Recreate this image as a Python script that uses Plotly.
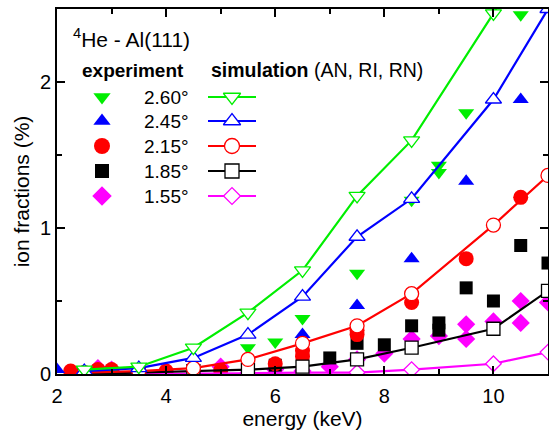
import plotly.graph_objects as go

FONT = "Liberation Sans, Arial, sans-serif"

angles = ["2.60°", "2.45°", "2.15°", "1.85°", "1.55°"]
colors = ["#00ee00", "#0000ff", "#ff0000", "#000000", "#ff00ff"]
filled_symbols = ["triangle-down", "triangle-up", "circle", "square", "diamond"]
open_symbols = ["triangle-down", "triangle-up", "circle", "square", "diamond"]
filled_sizes = [14, 14, 15, 13, 14]
open_sizes = [14, 14, 14, 13, 12]

# experiment (filled symbols)
exp_e_260 = [2.5, 3.0, 5.5, 6.0, 6.5, 7.5, 8.5, 9.0, 9.0, 9.5, 10.5]
exp_f_260 = [0.02, 0.02, 0.18, 0.22, 0.38, 0.69, 1.19, 1.38, 1.43, 1.79, 2.46]
exp_e_245 = [2.0, 2.5, 6.5, 7.5, 8.5, 9.5, 10.5]
exp_f_245 = [0.03, 0.02, 0.27, 0.47, 0.79, 1.32, 1.88]
exp_e_215 = [2.25, 2.75, 3.0, 4.0, 5.0, 6.0, 6.5, 6.5, 7.5, 7.5, 8.5, 9.5, 10.5]
exp_f_215 = [0.02, 0.03, 0.03, 0.02, 0.025, 0.07, 0.12, 0.16, 0.27, 0.30, 0.49, 0.79, 1.21]
exp_e_185 = [2.5, 3.0, 6.0, 6.5, 7.0, 7.5, 8.0, 8.5, 9.0, 9.0, 9.5, 10.0, 10.5, 11.0]
exp_f_185 = [0.01, 0.01, 0.06, 0.07, 0.11, 0.21, 0.20, 0.33, 0.30, 0.35, 0.59, 0.50, 0.88, 0.76]
exp_e_155 = [2.75, 3.0, 5.0, 6.0, 6.5, 7.0, 7.5, 8.0, 8.5, 9.0, 9.5, 9.5, 10.0, 10.5, 10.5, 11.0]
exp_f_155 = [0.04, 0.03, 0.05, 0.03, 0.02, 0.05, 0.10, 0.14, 0.24, 0.26, 0.34, 0.24, 0.36, 0.50, 0.35, 0.49]

# simulation (AN, RI, RN) (open symbols + lines)
sim_e = [2.5, 3.5, 4.5, 5.5, 6.5, 7.5, 8.5, 10.0, 11.0]
sim_f_260 = [0.03, 0.05, 0.18, 0.42, 0.71, 1.22, 1.60, 2.47, 3.10]
sim_f_245 = [0.02, 0.04, 0.11, 0.27, 0.53, 0.94, 1.20, 1.88, 2.50]
sim_f_215 = [0.01, 0.02, 0.04, 0.10, 0.21, 0.33, 0.55, 1.02, 1.36]
sim_f_185 = [0.0, 0.01, 0.02, 0.03, 0.05, 0.10, 0.18, 0.31, 0.57]
sim_f_155 = [0.0, 0.0, 0.0, 0.005, 0.01, 0.01, 0.03, 0.07, 0.15]

exp_sets = [(exp_e_260, exp_f_260), (exp_e_245, exp_f_245), (exp_e_215, exp_f_215),
            (exp_e_185, exp_f_185), (exp_e_155, exp_f_155)]
sim_sets = [sim_f_260, sim_f_245, sim_f_215, sim_f_185, sim_f_155]

fig = go.Figure()

# experiments: draw from bottom (magenta) to top (green)
for i in reversed(range(5)):
    e, f = exp_sets[i]
    fig.add_trace(go.Scatter(x=e, y=f, mode="markers", showlegend=False,
                             marker=dict(symbol=filled_symbols[i], size=filled_sizes[i],
                                         color=colors[i], line=dict(width=0))))

# simulations (open symbols: white-filled so the line is hidden inside them)
for i in reversed(range(5)):
    fig.add_trace(go.Scatter(x=sim_e, y=sim_sets[i], mode="lines+markers", showlegend=False,
                             line=dict(color=colors[i], width=2.2),
                             marker=dict(symbol=open_symbols[i], size=open_sizes[i],
                                         color="white",
                                         line=dict(color=colors[i], width=1.3))))

# legend drawn on a hidden overlay axis measured in pixels from the plot's top-left corner
row_y = [88, 112, 137, 162, 187]
for i in range(5):
    fig.add_trace(go.Scatter(x=[45], y=[row_y[i]], xaxis="x2", yaxis="y2", mode="markers",
                             showlegend=False, cliponaxis=False,
                             marker=dict(symbol=filled_symbols[i], size=filled_sizes[i] + 1,
                                         color=colors[i], line=dict(width=0))))
    fig.add_trace(go.Scatter(x=[151, 199], y=[row_y[i], row_y[i]], xaxis="x2", yaxis="y2",
                             mode="lines", showlegend=False, cliponaxis=False,
                             line=dict(color=colors[i], width=2.2)))
    fig.add_trace(go.Scatter(x=[175], y=[row_y[i]], xaxis="x2", yaxis="y2", mode="markers",
                             showlegend=False, cliponaxis=False,
                             marker=dict(symbol=open_symbols[i], size=open_sizes[i] + 1,
                                         color="white",
                                         line=dict(color=colors[i], width=1.3))))
    fig.add_annotation(x=85, y=row_y[i], xref="x2", yref="y2", text=angles[i],
                       showarrow=False, xanchor="left", yanchor="middle",
                       font=dict(family=FONT, size=19, color="black"))

fig.add_annotation(x=14, y=29, xref="x2", yref="y2", text="<sup>4</sup>He - Al(111)",
                   showarrow=False, xanchor="left", yanchor="middle",
                   font=dict(family=FONT, size=21, color="black"))
fig.add_annotation(x=23, y=61, xref="x2", yref="y2", text="<b>experiment</b>",
                   showarrow=False, xanchor="left", yanchor="middle",
                   font=dict(family=FONT, size=19, color="black"))
fig.add_annotation(x=152, y=61, xref="x2", yref="y2", text="<b>simulation</b> (AN, RI, RN)",
                   showarrow=False, xanchor="left", yanchor="middle",
                   font=dict(family=FONT, size=19.5, color="black"))

axis_common = dict(showgrid=False, zeroline=False, showline=True, linecolor="black",
                   linewidth=1.8, ticks="inside", ticklen=8, tickwidth=1.8, tickcolor="black",
                   mirror="ticks", automargin=False,
                   tickfont=dict(family=FONT, size=20, color="black"))

fig.update_layout(
    width=549, height=440,
    margin=dict(l=57, r=1, t=9, b=66),
    paper_bgcolor="white", plot_bgcolor="white",
    font=dict(family=FONT, color="black"),
    xaxis=dict(range=[2, 11], tickvals=[2, 4, 6, 8, 10],
               minor=dict(tickvals=[3, 5, 7, 9, 11], ticks="inside", ticklen=5,
                          tickwidth=1.8, tickcolor="black"),
               ticklabelstandoff=3,
               title=dict(text="energy (keV)", font=dict(family=FONT, size=21), standoff=0),
               **axis_common),
    yaxis=dict(range=[0, 2.5], tickvals=[0, 1, 2],
               minor=dict(tickvals=[0.5, 1.5, 2.5], ticks="inside", ticklen=5,
                          tickwidth=1.8, tickcolor="black"),
               title=dict(text="ion fractions (%)", font=dict(family=FONT, size=21), standoff=5),
               **axis_common),
    xaxis2=dict(overlaying="x", anchor="y2", range=[0, 491], visible=False, fixedrange=True),
    yaxis2=dict(overlaying="y", anchor="x2", range=[365, 0], visible=False, fixedrange=True),
)

fig.write_html("out.html", config={"displayModeBar": False},
               post_script="document.body.style.margin='0';document.body.style.overflow='hidden';")
